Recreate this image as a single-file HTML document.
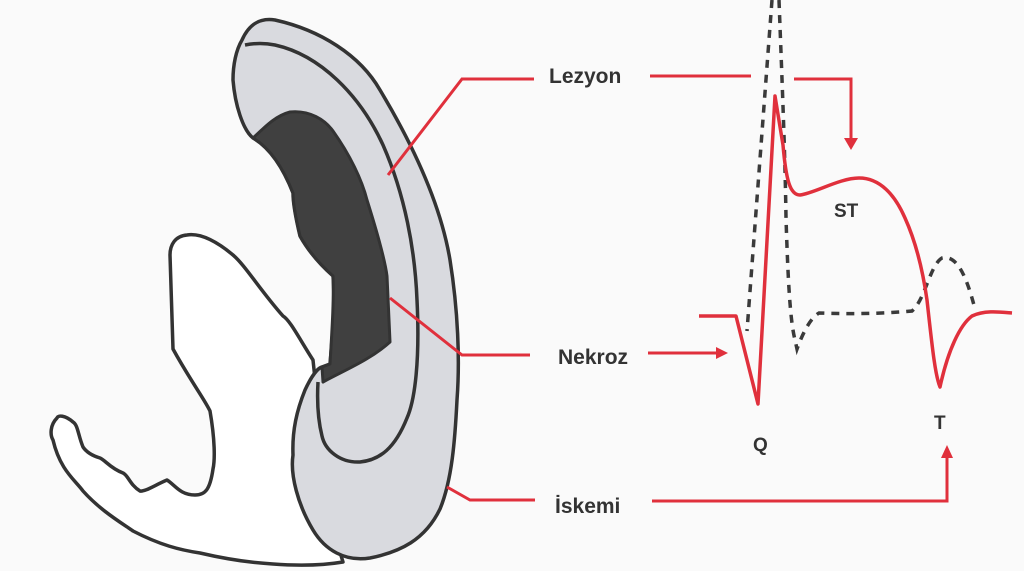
<!DOCTYPE html>
<html><head><meta charset="utf-8"><style>
html,body{margin:0;padding:0;background:#fafafa;}
svg{display:block}
text{font-family:"Liberation Sans",Arial,sans-serif;font-weight:bold;fill:#333;}
</style></head><body>
<svg width="1024" height="571" viewBox="0 0 1024 571" xmlns="http://www.w3.org/2000/svg">
<rect width="1024" height="571" fill="#fafafa"/>
<!-- white flap -->
<path d="M313,360 C300,340 290,320 283,316 C260,290 245,265 233,255 C215,240 200,233 187,235 C175,236 170,245 170,255 L173,349 C190,380 205,400 210,411 C215,440 215,460 213,469 C210,490 205,495 195,495 C180,495 175,485 167,480 C155,485 145,492 140,491 C130,485 128,475 123,473 C110,468 105,460 100,458 C90,455 85,450 83,447 C78,435 78,425 73,422 C65,415 58,415 57,418 C50,425 50,435 53,440 C60,470 75,480 83,491 C100,510 120,522 133,531 C160,545 180,550 200,553 C230,560 255,563 273,564 C300,566 325,565 343,562 L330,520 Z" fill="#fff" stroke="#333" stroke-width="3.5" stroke-linejoin="round"/>
<!-- outer gray -->
<path d="M242,40 C250,22 262,18 275,20 C320,30 360,55 380,90 C410,140 440,200 450,260 C458,310 460,360 457,400 C455,440 452,480 440,509 C425,540 400,552 370,558 C345,562 325,550 313,530 C298,505 290,475 293,455 C292,430 297,410 305,390 C312,375 318,368 322,367 L330,364 C333,330 335,300 333,276 C315,260 305,245 300,236 C295,215 293,200 293,193 C280,160 265,145 253,138 C243,130 235,105 233,80 C233,65 236,50 242,40 Z" fill="#d9dadf" stroke="#333" stroke-width="3.5" stroke-linejoin="round"/>
<!-- middle line -->
<path d="M245,45 C255,43 265,43 275,45 C320,55 360,95 383,145 C405,195 415,250 417,300 C420,360 415,400 407,418 C395,448 380,460 360,462 C340,463 325,450 322,436 C318,420 317,400 318,382" fill="none" stroke="#333" stroke-width="3.5" stroke-linejoin="round"/>
<!-- dark necrosis -->
<path d="M253,138 C265,127 275,116 290,112 C310,110 325,120 333,131 C350,155 362,180 367,200 C378,235 385,260 387,276 L390,342 C370,360 345,370 323,382 L322,367 L330,364 C332,330 334,300 333,276 C315,260 305,245 300,236 C295,215 293,200 293,193 C280,160 265,145 253,138 Z" fill="#404040" stroke="#333" stroke-width="3" stroke-linejoin="round"/>
<!-- red leader lines -->
<g fill="none" stroke="#e0303c" stroke-width="3">
<polyline points="388,175 462,79 534,79"/>
<line x1="650" y1="76" x2="751" y2="76"/>
<polyline points="794,79 851,79 851,140"/>
<polyline points="390,298 462,355 530,355"/>
<line x1="648" y1="353" x2="718" y2="353"/>
<polyline points="447,487 470,500 535,500"/>
<polyline points="652,501 947,501 947,456"/>
</g>
<g fill="#e0303c">
<polygon points="844,138 858,138 851,150"/>
<polygon points="716,347 716,359 728,353"/>
<polygon points="941,458 953,458 947,445"/>
</g>
<!-- dashed ECG -->
<g fill="none" stroke="#3a3a3a" stroke-width="3.5" stroke-dasharray="8,7">
<path d="M772,0 L747,331"/>
<path d="M779,0 C782,80 785,150 786,218 C788,280 790,320 795,340 L797,349 C802,335 810,318 819,313 C850,314 880,314 912,311 C925,300 930,265 942,258 C955,255 965,270 975,309"/>
</g>
<!-- red ECG -->
<path d="M699,316 L736,316 L758,404 L775,96 L783,145 C786,180 790,195 800,195 C815,193 840,178 859,178 C880,178 895,195 905,218 C915,240 922,265 927,300 C932,345 935,375 940,387 C948,350 960,325 972,316 C985,310 1000,312 1012,313" fill="none" stroke="#e0303c" stroke-width="3.5" stroke-linejoin="round"/>
<!-- labels -->
<text x="549" y="83" font-size="21">Lezyon</text>
<text x="558" y="364" font-size="21">Nekroz</text>
<text x="555" y="513" font-size="21">İskemi</text>
<text x="834" y="217" font-size="19">ST</text>
<text x="753" y="451" font-size="19">Q</text>
<text x="934" y="429" font-size="19">T</text>
</svg>
</body></html>
